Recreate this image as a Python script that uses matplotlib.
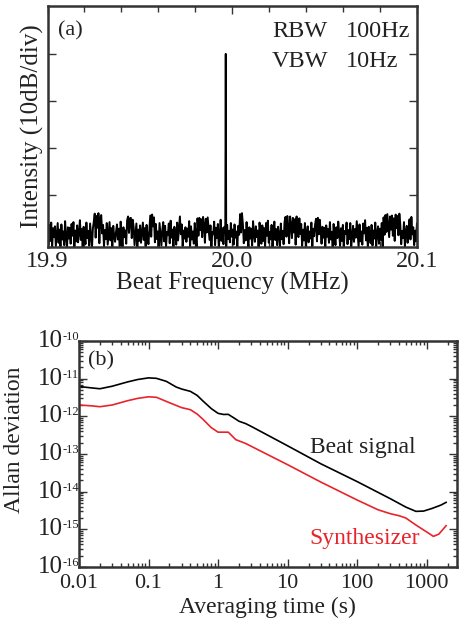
import numpy as np
import matplotlib
matplotlib.use("Agg")
import matplotlib.pyplot as plt
from matplotlib.ticker import MultipleLocator, LogLocator, NullFormatter
from matplotlib.transforms import offset_copy

plt.rcParams['font.family'] = ['Liberation Serif', 'DejaVu Serif']

# ---------------- Panel (a) data ----------------
freq_start, freq_stop = 19.9, 20.1
peak_freq = 19.9965
peak_level = -50.0
noise_db = [
    -88.2,-90.6,-86.4,-89.8,-85.9,-91.3,-87.1,-89.0,-86.7,-90.9,-88.5,-86.0,-90.2,-87.4,-91.0,-86.3,-89.5,-87.8,-90.7,-85.6,-88.9,-91.4,-86.9,-89.3,-87.0,
    -90.4,-86.2,-88.7,-85.8,-91.2,-87.6,-89.9,-86.5,-90.1,-88.0,-85.4,-89.6,-87.3,-91.1,-86.8,-88.4,-90.5,-85.9,-89.2,-87.7,-90.8,-86.1,-88.6,-91.3,-87.2,
    -85.7,-84.0,-89.1,-84.5,-87.0,-83.9,-90.3,-85.1,-84.3,-88.2,-86.4,-91.0,-87.5,-89.4,-86.0,-90.6,-88.1,-85.8,-89.7,-87.1,-91.2,-86.6,-88.8,-90.0,-87.9,
    -86.3,-89.5,-87.2,-90.9,-85.7,-88.6,-91.1,-86.9,-89.0,-87.6,-90.4,-85.4,-84.6,-88.1,-85.0,-84.9,-89.2,-85.3,-86.8,-90.7,-88.3,-86.1,-91.3,-87.4,-89.8,
    -86.5,-90.2,-88.0,-85.9,-89.6,-87.1,-91.0,-86.4,-88.8,-90.5,-87.3,-84.4,-88.9,-84.2,-86.7,-84.8,-90.1,-86.2,-89.4,-87.8,-91.2,-86.0,-88.5,-90.8,-87.5,
    -85.8,-89.9,-86.6,-91.1,-87.9,-88.6,-86.1,-90.3,-85.5,-89.1,-87.4,-91.4,-86.8,-88.2,-90.6,-85.9,-89.7,-87.0,-84.6,-88.4,-86.3,-90.9,-87.6,-89.3,-86.9,
    -90.0,-87.2,-88.9,-85.6,-91.0,-86.7,-89.5,-87.8,-90.4,-86.0,-88.3,-91.2,-85.0,-88.7,-84.9,-87.5,-85.2,-89.0,-84.7,-86.4,-90.2,-85.1,-88.0,-84.8,-87.3,
    -89.6,-86.5,-91.1,-87.9,-88.4,-85.7,-90.7,-87.0,-89.2,-86.2,-91.3,-88.6,-85.3,-89.8,-87.1,-90.5,-86.8,-88.1,-91.0,-86.4,-89.4,-87.7,-90.1,-86.0,-88.9,
    -87.4,-90.6,-86.3,-89.1,-87.8,-91.2,-86.6,-88.5,-84.1,-88.0,-83.9,-86.2,-90.3,-87.5,-89.7,-85.8,-88.8,-91.1,-86.9,-89.3,-87.2,-90.8,-85.6,-88.4,-90.0,
    -86.7,-89.0,-87.6,-91.3,-85.9,-88.3,-90.4,-86.5,-89.8,-87.1,-91.0,-86.0,-88.7,-85.5,-90.2,-87.9,-89.5,-86.4,-91.2,-88.1,-85.7,-89.6,-87.3,-90.7,-86.8,
    -88.6,-91.1,-86.1,-89.4,-87.7,-90.5,-85.8,-84.7,-88.9,-84.5,-87.0,-90.3,-84.6,-86.4,-89.2,-84.9,-88.0,-85.2,-90.6,-84.6,-87.5,-89.0,-85.0,-88.3,-86.2,
    -90.9,-87.4,-89.7,-86.0,-91.2,-88.2,-86.7,-90.1,-87.8,-89.3,-85.9,-91.0,-87.2,-88.8,-86.3,-85.1,-89.9,-84.9,-88.4,-85.3,-87.6,-90.4,-86.8,-89.1,-87.0,
    -91.3,-86.5,-88.9,-87.3,-90.2,-85.8,-89.5,-87.9,-91.1,-86.2,-88.6,-90.7,-86.9,-89.2,-85.7,-88.0,-90.9,-87.1,-89.8,-86.4,-91.0,-87.7,-88.3,-85.9,-90.5,
    -87.5,-89.4,-86.0,-91.2,-88.7,-86.6,-90.0,-87.3,-89.1,-85.6,-88.5,-91.1,-86.3,-89.9,-87.8,-90.6,-86.1,-88.2,-85.4,-89.7,-87.0,-91.3,-86.8,-88.9,-90.3,
    -86.4,-90.8,-87.6,-89.3,-85.9,-91.0,-88.1,-86.7,-90.4,-87.2,-89.6,-86.0,-91.2,-84.8,-88.5,-84.3,-87.9,-84.1,-86.5,-89.0,-84.6,-87.4,-84.4,-88.7,-85.0,
    -89.8,-84.2,-87.1,-84.5,-88.6,-84.0,-86.3,-90.5,-87.7,-89.2,-85.8,-91.1,-88.0,-86.6,-90.2,-87.3,-85.2,-89.5,-84.7,-88.4,-86.9,-90.7,-87.6,-89.9,-86.1,
]
freq_ticks = [19.9, 20.0, 20.1]
freq_tick_labels = ["19.9", "20.0", "20.1"]

# ---------------- Panel (b) data ----------------
tau_beat = [0.01, 0.015, 0.02, 0.03, 0.05, 0.07, 0.1, 0.13, 0.18, 0.25, 0.3, 0.4,
            0.5, 0.6, 0.8, 1.0, 1.2, 1.4, 1.7, 2.0, 2.5, 3.0, 10, 30, 100, 300,
            500, 700, 900, 1200, 1600, 1900]
adev_beat = [6.2e-12, 5.7e-12, 5.4e-12, 6.3e-12, 8.2e-12, 9.5e-12, 1.05e-11, 1.02e-11,
             8.5e-12, 6.0e-12, 5.3e-12, 4.6e-12, 3.6e-12, 2.6e-12, 1.6e-12, 1.2e-12,
             1.12e-12, 1.13e-12, 9.0e-13, 7.4e-13, 6.4e-13, 5.4e-13, 1.65e-13, 5.5e-14,
             1.85e-14, 6.5e-15, 3.9e-15, 3.0e-15, 3.05e-15, 3.6e-15, 4.4e-15, 5.2e-15]
tau_synth = [0.01, 0.015, 0.02, 0.03, 0.05, 0.07, 0.1, 0.13, 0.2, 0.3, 0.4, 0.5,
             0.6, 0.8, 1.0, 1.4, 1.8, 2.5, 3.0, 10, 30, 100, 200, 300, 400, 500,
             700, 1000, 1250, 1500, 1900]
adev_synth = [2.0e-12, 1.9e-12, 1.8e-12, 2.0e-12, 2.6e-12, 3.0e-12, 3.3e-12, 3.2e-12,
              2.3e-12, 1.7e-12, 1.5e-12, 1.15e-12, 8.5e-13, 5.0e-13, 3.8e-13, 3.8e-13,
              2.4e-13, 1.9e-13, 1.6e-13, 5.2e-14, 1.8e-14, 6.0e-15, 3.3e-15, 2.6e-15,
              2.3e-15, 2.0e-15, 1.3e-15, 8.5e-16, 6.5e-16, 7.5e-16, 1.25e-15]
x_ticks_b = [0.01, 0.1, 1, 10, 100, 1000]
x_labels_b = ["0.01", "0.1", "1", "10", "100", "1000"]
y_exps_b = [-16, -15, -14, -13, -12, -11, -10]

TXT = '#222222'
AXC = '#333333'
RED = '#e8242a'

# ---------------- Figure ----------------
fig = plt.figure(figsize=(4.69, 6.25), dpi=100)
ax1 = fig.add_axes([0.1013, 0.6048, 0.7877, 0.3856])
ax2 = fig.add_axes([0.1684, 0.0928, 0.8054, 0.3616])

# Panel (a)
freqs = np.linspace(freq_start, freq_stop, len(noise_db))
levels = np.array(noise_db)
idx = np.searchsorted(freqs, peak_freq)
freqs = np.insert(freqs, idx, peak_freq)
levels = np.insert(levels, idx, peak_level)
ax1.plot(freqs, levels, color='black', lw=1.4)
ax1.set_xlim(freq_start, freq_stop)
ax1.set_ylim(-91.1, -39.8)
ax1.set_yticks([-80, -70, -60, -50])
ax1.set_yticklabels([])
ax1.set_xticks(freq_ticks)
ax1.set_xticklabels(freq_tick_labels, fontsize=17.5)
ax1.xaxis.set_minor_locator(MultipleLocator(0.02))
ax1.tick_params(which='both', direction='in', top=True, right=True, width=1.0,
                colors=AXC, labelcolor=TXT)
ax1.tick_params(which='major', length=6, pad=3)
ax1.tick_params(which='minor', length=4)
ax1.set_xlabel("Beat Frequency (MHz)", fontsize=18, labelpad=0, color=TXT)
ax1.set_ylabel("Intensity (10dB/div)", fontsize=18, color=TXT, ha='center', va='center')
ax1.yaxis.set_label_coords(32 / 469, 1 - 126.5 / 625, transform=fig.transFigure)
for s in ax1.spines.values():
    s.set_linewidth(1.8)
    s.set_color(AXC)
ax1.text(0.028, 0.895, "(a)", transform=ax1.transAxes, fontsize=16, va='center', ha='left', color=TXT)
ax1.text(0.6075, 0.895, "RBW", transform=ax1.transAxes, fontsize=17.5, va='center', ha='left', color=TXT)
ax1.text(0.8065, 0.895, "100Hz", transform=ax1.transAxes, fontsize=17.5, va='center', ha='left', color=TXT)
ax1.text(0.6075, 0.77, "VBW", transform=ax1.transAxes, fontsize=17.5, va='center', ha='left', color=TXT)
ax1.text(0.8065, 0.77, "10Hz", transform=ax1.transAxes, fontsize=17.5, va='center', ha='left', color=TXT)

# Panel (b)
ax2.plot(tau_beat, adev_beat, color='black', lw=1.2)
ax2.plot(tau_synth, adev_synth, color=RED, lw=1.2)
ax2.set_xscale('log')
ax2.set_yscale('log')
ax2.set_xlim(0.01, 2700)
ax2.set_ylim(1e-16, 1e-10)
ax2.set_xticks(x_ticks_b)
ax2.set_xticklabels(x_labels_b, fontsize=16)
ax2.set_yticks([10.0 ** e for e in y_exps_b])
ax2.set_yticklabels([])
ax2.xaxis.set_minor_locator(LogLocator(base=10, subs=np.arange(2, 10), numticks=20))
ax2.yaxis.set_minor_locator(LogLocator(base=10, subs=np.arange(2, 10), numticks=20))
ax2.xaxis.set_minor_formatter(NullFormatter())
ax2.yaxis.set_minor_formatter(NullFormatter())
ax2.tick_params(which='both', direction='in', top=True, right=True, width=1.0,
                colors=AXC, labelcolor=TXT)
ax2.tick_params(which='major', length=6, pad=5)
ax2.tick_params(which='minor', length=3)
# y tick labels: "10" with a superscript exponent
ytrans = ax2.get_yaxis_transform()
base_tr = offset_copy(ytrans, fig=fig, x=-16, y=0, units='dots')
sup_tr = offset_copy(ytrans, fig=fig, x=-16, y=10, units='dots')
for e in y_exps_b:
    ax2.text(0, 10.0 ** e, "10", transform=base_tr, fontsize=18, ha='right', va='center', color=TXT)
    ax2.text(0, 10.0 ** e, "%d" % e, transform=sup_tr, fontsize=9, ha='left', va='top', color=TXT)
ax2.set_xlabel("Averaging time (s)", fontsize=17, labelpad=3, color=TXT)
ax2.set_ylabel("Allan deviation", fontsize=17, color=TXT, ha='center', va='center')
ax2.yaxis.set_label_coords(15 / 469, 1 - 440 / 625, transform=fig.transFigure)
for s in ax2.spines.values():
    s.set_linewidth(1.8)
    s.set_color(AXC)
ax2.text(0.024, 0.91, "(b)", transform=ax2.transAxes, fontsize=16, va='center', ha='left', color=TXT)
ax2.text(0.611, 0.527, "Beat signal", transform=ax2.transAxes, fontsize=17, va='center', ha='left', color=TXT)
ax2.text(0.611, 0.128, "Synthesizer", transform=ax2.transAxes, fontsize=17, va='center', ha='left', color=RED)

fig.savefig("out.png", dpi=100)
